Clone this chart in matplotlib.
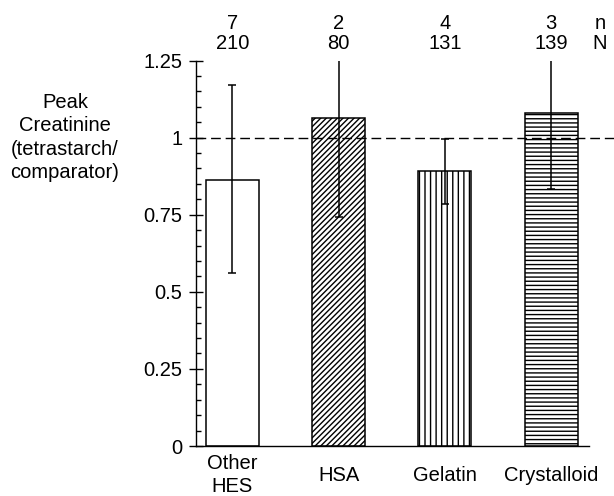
import numpy as np
import matplotlib
matplotlib.use("Agg")
import matplotlib.pyplot as plt
from matplotlib.ticker import MultipleLocator
import matplotlib.transforms as mtrans

plt.rcParams['font.family'] = ['Liberation Sans', 'DejaVu Sans']
plt.rcParams['hatch.linewidth'] = 1.0

# data
groups = ["Other\nHES", "HSA", "Gelatin", "Crystalloid"]
ratio = [0.862, 1.063, 0.891, 1.079]
ci_low = [0.562, 0.742, 0.784, 0.833]
ci_high = [1.17, 1.6, 0.995, 1.6]   # HSA / crystalloid run off the top
n_trials = ["7", "2", "4", "3"]
n_patients = ["210", "80", "131", "139"]
yticks = [0, 0.25, 0.5, 0.75, 1, 1.25]
ytick_labels = ["0", "0.25", "0.5", "0.75", "1", "1.25"]
hatches = ["", "//////", "|||", "----"]

fs = 14.5

fig = plt.figure(figsize=(6.14, 4.96), dpi=100)
ax = fig.add_axes([0.319, 0.1008, 0.640, 0.7772])

x = np.arange(len(groups))
for i in range(len(groups)):
    ax.bar(x[i], ratio[i], width=0.5, color="white", edgecolor="black",
           linewidth=1.1, hatch=hatches[i], zorder=2)

yerr = [np.array(ratio) - np.array(ci_low), np.array(ci_high) - np.array(ratio)]
ax.errorbar(x, ratio, yerr=yerr, fmt="none", ecolor="black", elinewidth=1.1,
            capsize=3, capthick=1.1, zorder=3)

# reference line at ratio 1, runs past the right end of the axis
ax.axhline(1.0, xmin=0, xmax=1.065, color="black", lw=1.0,
           dashes=(7, 3.5), clip_on=False, zorder=4)

ax.set_xlim(-0.343, 3.354)
ax.set_ylim(0, 1.25)
ax.set_yticks(yticks)
ax.set_yticklabels(ytick_labels)
ax.yaxis.set_minor_locator(MultipleLocator(0.05))
ax.tick_params(axis="y", which="major", direction="inout", length=10.5,
               width=1.0, pad=4.5, labelsize=fs)
ax.tick_params(axis="y", which="minor", direction="in", length=3.6, width=1.0)

ax.set_xticks(x)
ax.set_xticklabels(groups, linespacing=1.3)
ax.tick_params(axis="x", length=0, pad=21, labelsize=fs)
for lab in ax.get_xticklabels():
    lab.set_va("center")

for s in ["top", "right"]:
    ax.spines[s].set_visible(False)
ax.spines["left"].set_linewidth(1.0)
ax.spines["bottom"].set_linewidth(1.0)

# n (trials) and N (patients) above each bar
trans = mtrans.blended_transform_factory(ax.transData, ax.transAxes)
for i in range(len(groups)):
    ax.text(x[i], 1.096, n_trials[i], transform=trans, ha="center",
            va="center", fontsize=fs)
    ax.text(x[i], 1.044, n_patients[i], transform=trans, ha="center",
            va="center", fontsize=fs)
ax.text(3.457, 1.096, "n", transform=trans, ha="center", va="center", fontsize=fs)
ax.text(3.457, 1.044, "N", transform=trans, ha="center", va="center", fontsize=fs)

ax.text(-0.333, 1.0, "Peak\nCreatinine\n(tetrastarch/\ncomparator)",
        transform=mtrans.blended_transform_factory(ax.transAxes, ax.transData),
        ha="center", va="center", fontsize=fs, linespacing=1.3)

fig.savefig("out.png", dpi=100)
